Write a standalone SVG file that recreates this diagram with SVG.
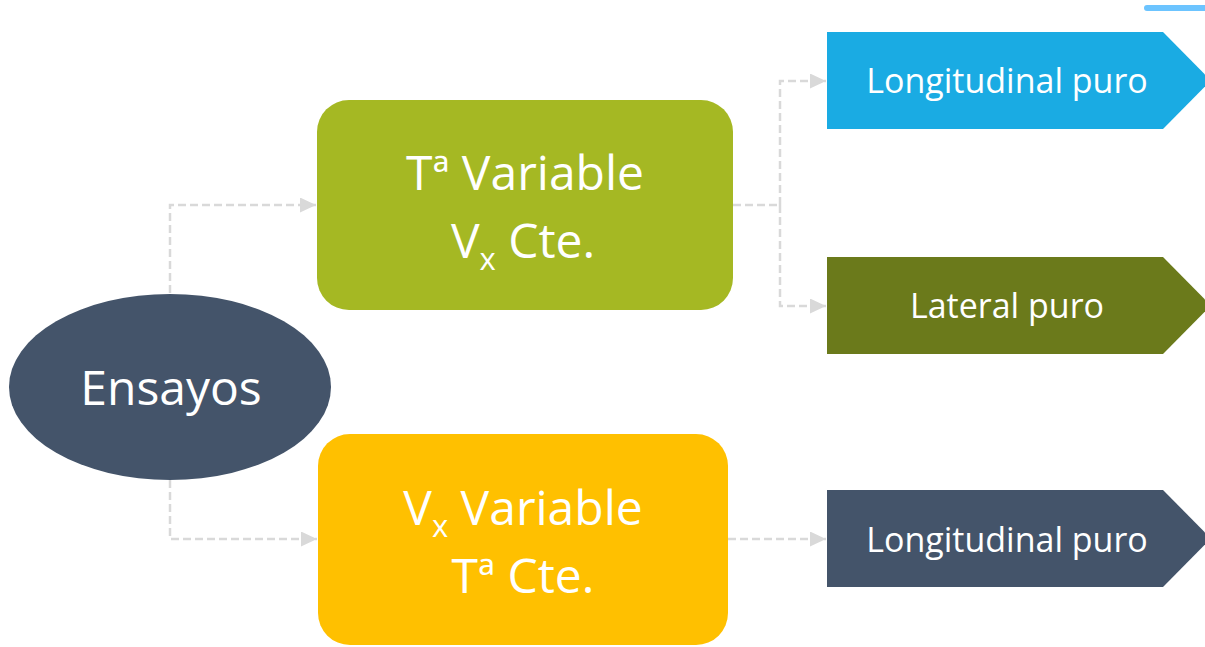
<svg xmlns="http://www.w3.org/2000/svg" width="1205" height="647" viewBox="0 0 1205 647">
<defs>
<style>
.t{font-family:"Open Sans","Liberation Sans",sans-serif;fill:#fff;text-anchor:middle}
.big{font-size:48px}
.sm{font-size:34px}
.c{fill:none;stroke:#D9D9D9;stroke-width:2.5;stroke-dasharray:8,4}
</style>
<marker id="ah" markerWidth="16" markerHeight="15" refX="16" refY="7.5" orient="auto" markerUnits="userSpaceOnUse">
<path d="M0,0 L16,7.5 L0,15 Z" fill="#D9D9D9"/>
</marker>
</defs>
<rect width="1205" height="647" fill="#fff"/>
<line x1="1147" y1="8" x2="1205" y2="8" stroke="#6CC4FF" stroke-width="6" stroke-linecap="round"/>
<g id="connectors">
<path class="c" d="M170,293 V205 H316" marker-end="url(#ah)"/>
<path class="c" d="M170,480 V539 H317" marker-end="url(#ah)"/>
<path class="c" d="M733,205 H780"/>
<path class="c" d="M780,205 V81 H826" marker-end="url(#ah)"/>
<path class="c" d="M780,205 V306 H826" marker-end="url(#ah)"/>
<path class="c" d="M728,539 H826" marker-end="url(#ah)"/>
</g>
<g id="ensayos">
<ellipse cx="170" cy="387" rx="161" ry="93" fill="#44546A"/>
<text class="t big" x="171" y="405">Ensayos</text>
</g>
<g id="temp-variable">
<rect x="317" y="100" width="416" height="210" rx="32" fill="#A5B823"/>
<text class="t big" x="525" y="190">Tª Variable</text>
<text class="t big" x="523" y="258">V<tspan font-size="31" dy="12">x</tspan><tspan dy="-12"> Cte.</tspan></text>
</g>
<g id="vx-variable">
<rect x="318" y="434" width="410" height="211" rx="32" fill="#FFC000"/>
<text class="t big" x="523" y="525">V<tspan font-size="31" dy="12">x</tspan><tspan dy="-12"> Variable</tspan></text>
<text class="t big" x="523" y="593">Tª Cte.</text>
</g>
<g id="long-puro-1">
<polygon points="827,32 1163,32 1211,80.5 1163,129 827,129" fill="#1AABE3"/>
<text class="t sm" x="1007" y="93">Longitudinal puro</text>
</g>
<g id="lateral-puro">
<polygon points="827,257 1163,257 1211,305.5 1163,354 827,354" fill="#6B7A1B"/>
<text class="t sm" x="1007" y="318">Lateral puro</text>
</g>
<g id="long-puro-2">
<polygon points="827,490 1163,490 1211,538.5 1163,587 827,587" fill="#44546A"/>
<text class="t sm" x="1007" y="552">Longitudinal puro</text>
</g>
</svg>
